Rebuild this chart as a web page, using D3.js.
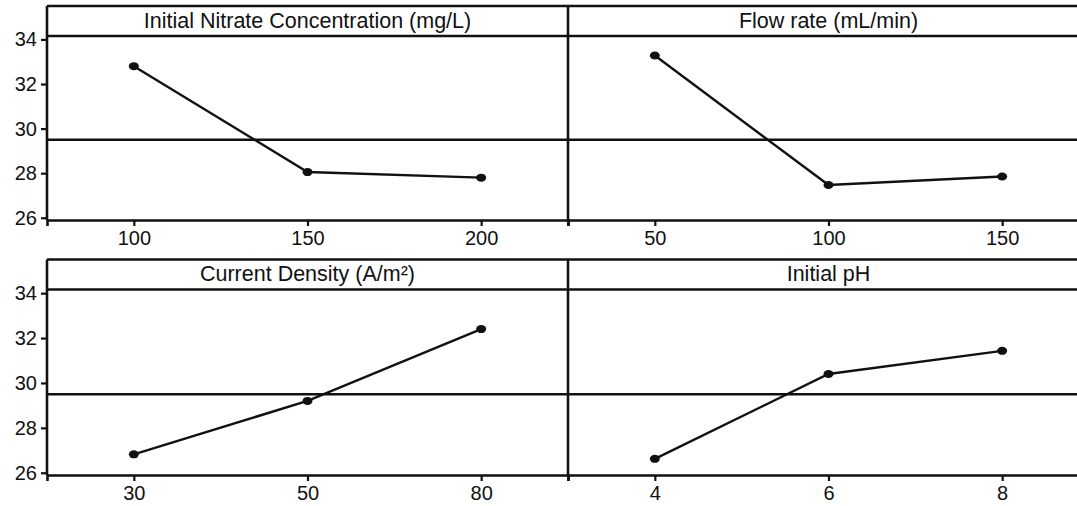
<!DOCTYPE html>
<html>
<head>
<meta charset="utf-8">
<script src="https://cdn.jsdelivr.net/npm/d3@7"></script>
<style>
  html, body { margin: 0; padding: 0; background: #fff; }
  svg { display: block; }
  text { font-family: "Liberation Sans", Arial, Helvetica, sans-serif; fill: #111; }
</style>
</head>
<body>
<svg id="chart" width="1077" height="506"></svg>
<script>
// ---- data ----
const panelTitles = ["Initial Nitrate Concentration (mg/L)", "Flow rate (mL/min)", "Current Density (A/m\u00B2)", "Initial pH"];
const nitrateLevels = ["100", "150", "200"];
const nitrateMeans = [32.8, 28.05, 27.8];
const flowLevels = ["50", "100", "150"];
const flowMeans = [33.28, 27.47, 27.85];
const currentLevels = ["30", "50", "80"];
const currentMeans = [26.82, 29.2, 32.4];
const phLevels = ["4", "6", "8"];
const phMeans = [26.62, 30.4, 31.43];
const yTicks = [26, 28, 30, 32, 34];
const overallMean = 29.5;
const yDomain = [25.9, 35.5];

const panels = [
  { title: panelTitles[0], levels: nitrateLevels, means: nitrateMeans, col: 0, row: 0 },
  { title: panelTitles[1], levels: flowLevels, means: flowMeans, col: 1, row: 0 },
  { title: panelTitles[2], levels: currentLevels, means: currentMeans, col: 0, row: 1 },
  { title: panelTitles[3], levels: phLevels, means: phMeans, col: 1, row: 1 }
];

// ---- layout ----
const colX = [47, 568];
const panelW = 521;
const rows = [{ top: 6, bottom: 220 }, { top: 259.5, bottom: 475 }];
const headerH = 30;
const ink = "#111";
const tickFont = 20;

const svg = d3.select("#chart");

panels.forEach(p => {
  const x0 = colX[p.col];
  const r = rows[p.row];
  const g = svg.append("g");

  const x = d3.scalePoint().domain(p.levels).range([x0, x0 + panelW]).padding(0.5);
  const y = d3.scaleLinear().domain(yDomain).range([r.bottom, r.top]);

  // frame: top border, header bottom line, left border
  g.append("line").attr("x1", x0).attr("x2", x0 + panelW).attr("y1", r.top).attr("y2", r.top)
    .attr("stroke", ink).attr("stroke-width", 2.6);
  g.append("line").attr("x1", x0).attr("x2", x0 + panelW).attr("y1", r.top + headerH).attr("y2", r.top + headerH)
    .attr("stroke", ink).attr("stroke-width", 2.6);
  g.append("line").attr("x1", x0).attr("x2", x0).attr("y1", r.top).attr("y2", r.bottom)
    .attr("stroke", ink).attr("stroke-width", 2.6);

  // x axis
  const xAxis = d3.axisBottom(x).tickSize(6).tickPadding(5);
  const xa = g.append("g").attr("transform", `translate(0,${r.bottom})`).call(xAxis);
  xa.select(".domain").attr("stroke", ink).attr("stroke-width", 2.6);
  xa.selectAll(".tick line").attr("stroke", ink).attr("stroke-width", 2.2);
  xa.selectAll(".tick text").attr("font-size", tickFont).attr("fill", ink)
    .style("font-family", '"Liberation Sans", Arial, sans-serif');

  // y axis only for left column
  if (p.col === 0) {
    const yAxis = d3.axisLeft(y).tickValues(yTicks).tickSize(6).tickPadding(4).tickSizeOuter(0);
    const ya = g.append("g").attr("transform", `translate(${x0},0)`).call(yAxis);
    ya.select(".domain").remove();
    ya.selectAll(".tick line").attr("stroke", ink).attr("stroke-width", 2.2);
    ya.selectAll(".tick text").attr("font-size", tickFont).attr("fill", ink)
      .style("font-family", '"Liberation Sans", Arial, sans-serif');
  }

  // overall mean reference line
  g.append("line").attr("x1", x0).attr("x2", x0 + panelW)
    .attr("y1", y(overallMean)).attr("y2", y(overallMean))
    .attr("stroke", ink).attr("stroke-width", 2.4);

  // title
  g.append("text").attr("x", x0 + panelW / 2).attr("y", r.top + headerH / 2 + 1)
    .attr("text-anchor", "middle").attr("dominant-baseline", "middle")
    .attr("font-size", 21.5).text(p.title);

  // mean line + markers
  const pts = p.levels.map((l, i) => [x(l), y(p.means[i])]);
  g.append("path").attr("d", d3.line()(pts)).attr("fill", "none")
    .attr("stroke", ink).attr("stroke-width", 2.4);
  g.selectAll("ellipse.pt").data(pts).join("ellipse").attr("class", "pt")
    .attr("cx", d => d[0]).attr("cy", d => d[1]).attr("rx", 5).attr("ry", 4).attr("fill", ink);
});
</script>
</body>
</html>
